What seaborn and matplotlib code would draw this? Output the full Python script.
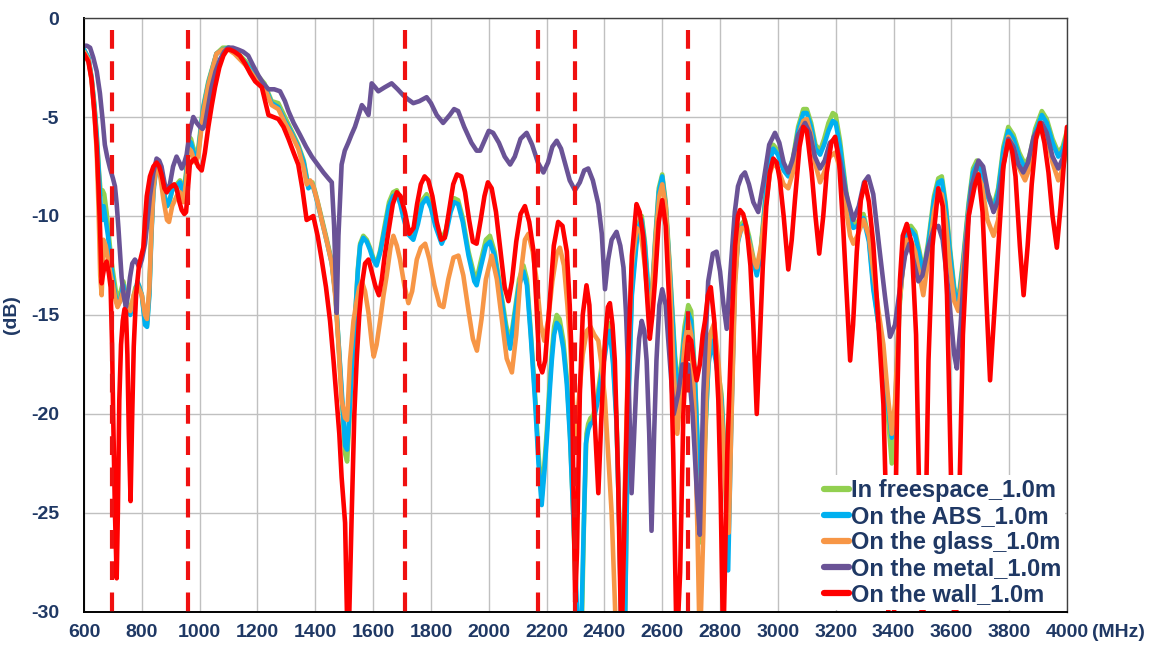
import pandas as pd
import matplotlib
matplotlib.use('Agg')
import matplotlib.pyplot as plt
import seaborn as sns

# Frequency (MHz), return loss (dB) pairs.
# Values below -30 dB leave the plot area in the original.
FREESPACE = [
    (600, -1.6), (615, -2.0), (626, -3.0), (636, -4.4), (644, -5.9), (652, -7.8), (658, -8.9), (664, -8.7),
    (670, -8.9), (678, -9.8), (686, -11), (694, -12.2), (702, -13), (710, -13.8), (718, -14.2), (727, -13.8),
    (736, -13.3), (745, -14), (755, -14.8), (765, -14.5), (778, -13.6), (790, -13.5), (800, -14), (811, -15.3),
    (818, -15.5), (826, -13.8), (833, -10.8), (840, -8.6), (851, -7.3), (862, -7.6), (875, -8.7), (887, -9.5),
    (894, -9.4), (905, -8.7), (920, -8.4), (932, -8.2), (944, -8.8), (953, -7.8), (963, -6.0), (970, -6.1),
    (977, -6.5), (985, -6.8), (995, -6.6), (1012, -4.5), (1030, -3.2), (1058, -1.8), (1080, -1.5), (1100, -1.5),
    (1120, -1.6), (1140, -1.9), (1160, -2.2), (1185, -2.7), (1200, -2.9), (1224, -3.3), (1249, -4.2), (1272, -4.3),
    (1295, -5.0), (1318, -5.7), (1341, -6.4), (1360, -7.2), (1376, -8.5), (1390, -8.3), (1400, -8.8), (1422, -10.1),
    (1440, -11.2), (1457, -12.3), (1470, -14), (1480, -16.3), (1490, -18.8), (1503, -22), (1510, -22.4), (1517, -20.5),
    (1527, -17.5), (1537, -15.3), (1547, -12.7), (1555, -11.4), (1566, -11.0), (1578, -11.2), (1589, -11.6), (1600, -12.1),
    (1612, -12.4), (1625, -11.7), (1641, -10.4), (1655, -9.3), (1669, -8.8), (1682, -8.7), (1694, -9.2), (1705, -9.9),
    (1720, -10.7), (1739, -11.0), (1755, -10.2), (1770, -9.2), (1785, -8.9), (1800, -9.4), (1815, -10.3), (1837, -11.2),
    (1852, -10.7), (1868, -9.6), (1880, -9.1), (1894, -9.2), (1910, -10.1), (1930, -11.8), (1950, -13.0), (1958, -13.2),
    (1972, -12.3), (1990, -11.2), (2004, -11.0), (2020, -11.8), (2040, -13.6), (2060, -15.5), (2074, -16.4), (2090, -14.8),
    (2105, -13.2), (2120, -12.5), (2132, -13.2), (2145, -15.8), (2160, -19), (2172, -22), (2183, -24.2), (2192, -22.6),
    (2201, -20.8), (2210, -18.6), (2218, -16.9), (2226, -15.6), (2235, -15.0), (2245, -15.2), (2258, -16.3), (2270, -18.2),
    (2281, -21), (2292, -25), (2299, -28), (2306, -32), (2320, -32), (2330, -25), (2338, -21), (2344, -20.5),
    (2352, -20.2), (2361, -20.1), (2375, -19.2), (2390, -17.6), (2402, -16.6), (2412, -15.6), (2419, -15.4), (2430, -17.2),
    (2442, -20.3), (2452, -26), (2460, -32), (2470, -32), (2482, -19.6), (2495, -13.7), (2511, -11.1), (2520, -10.3),
    (2529, -10.0), (2540, -11.3), (2550, -13.3), (2557, -15.0), (2565, -13.8), (2575, -11.3), (2588, -8.6), (2600, -7.9),
    (2612, -9.3), (2625, -12.3), (2644, -17), (2655, -18.7), (2665, -17.6), (2677, -15.6), (2690, -14.5), (2700, -14.8),
    (2713, -18), (2724, -22), (2736, -26.5), (2748, -21.5), (2760, -17.3), (2771, -16), (2785, -17), (2805, -19),
    (2818, -22.5), (2828, -26), (2838, -20.5), (2851, -13.2), (2862, -11.2), (2874, -10.4), (2886, -10.2), (2900, -11),
    (2915, -12.1), (2927, -12.8), (2940, -11.8), (2955, -9.3), (2970, -7.2), (2984, -6.4), (3000, -6.7), (3020, -7.5),
    (3036, -7.8), (3052, -7.1), (3070, -5.5), (3088, -4.6), (3100, -4.6), (3115, -5.3), (3130, -6.4), (3146, -6.7),
    (3160, -6.1), (3175, -5.3), (3190, -4.8), (3200, -4.9), (3215, -6.2), (3235, -8.6), (3250, -10.1), (3261, -10.4),
    (3275, -10.3), (3296, -9.9), (3315, -11.1), (3330, -13.5), (3348, -15.5), (3365, -17.5), (3380, -20), (3394, -22.5),
    (3405, -21), (3420, -14.8), (3434, -12.1), (3445, -10.6), (3460, -10.5), (3475, -10.8), (3490, -11.8), (3503, -12.8),
    (3520, -11.3), (3540, -9.0), (3555, -8.1), (3567, -8.0), (3580, -9.3), (3595, -11.6), (3610, -13.6), (3624, -14.3),
    (3640, -12.3), (3660, -9.3), (3675, -7.6), (3688, -7.2), (3705, -7.6), (3725, -8.8), (3746, -9.5), (3762, -8.6),
    (3780, -6.5), (3797, -5.5), (3815, -5.9), (3835, -6.8), (3855, -7.4), (3870, -7.0), (3890, -5.6), (3913, -4.7),
    (3930, -5.1), (3950, -6.1), (3970, -6.8), (3985, -6.5), (4000, -5.7),
]

ABS = [
    (600, -1.6), (615, -2.0), (626, -3.0), (636, -4.5), (644, -6.0), (652, -8.0), (658, -9.6), (663, -10.2),
    (668, -9.5), (675, -10.2), (683, -11), (692, -12.3), (700, -13.2), (708, -14), (716, -14.5), (725, -14.3),
    (736, -13.5), (745, -14.5), (760, -15), (772, -14.2), (785, -13.3), (800, -14), (811, -15.5), (818, -15.6),
    (826, -14), (833, -11), (840, -8.8), (851, -7.4), (862, -7.7), (875, -8.8), (887, -9.5), (894, -9.3),
    (905, -8.7), (920, -8.5), (932, -8.3), (944, -9.0), (953, -8.0), (963, -6.2), (970, -6.3), (977, -6.7),
    (985, -7.0), (995, -6.8), (1012, -4.6), (1030, -3.3), (1058, -1.8), (1080, -1.6), (1100, -1.5), (1120, -1.7),
    (1140, -2.0), (1160, -2.3), (1185, -2.8), (1200, -3.0), (1224, -3.4), (1249, -4.3), (1272, -4.5), (1295, -5.2),
    (1318, -5.8), (1341, -6.5), (1360, -7.3), (1376, -8.6), (1390, -8.4), (1400, -8.9), (1422, -10.2), (1440, -11.3),
    (1457, -12.4), (1470, -14), (1480, -16.3), (1490, -18.5), (1503, -21.6), (1510, -21.8), (1517, -20.2), (1527, -17.5),
    (1537, -15.3), (1547, -12.8), (1555, -11.5), (1566, -11.1), (1578, -11.3), (1589, -11.7), (1600, -12.2), (1612, -12.5),
    (1625, -11.8), (1641, -10.6), (1655, -9.5), (1669, -9.0), (1682, -8.9), (1694, -9.4), (1705, -10.1), (1720, -10.9),
    (1739, -11.2), (1755, -10.4), (1770, -9.4), (1785, -9.1), (1800, -9.6), (1815, -10.5), (1837, -11.4), (1852, -10.9),
    (1868, -9.8), (1880, -9.3), (1894, -9.4), (1910, -10.3), (1930, -12), (1950, -13.3), (1958, -13.5), (1972, -12.6),
    (1990, -11.5), (2004, -11.3), (2020, -12), (2040, -13.8), (2060, -15.8), (2074, -16.7), (2090, -15), (2105, -13.5),
    (2120, -12.8), (2132, -13.5), (2145, -16), (2160, -19.3), (2172, -22.5), (2183, -24.6), (2192, -23), (2201, -21.2),
    (2210, -19), (2218, -17.3), (2226, -16), (2235, -15.4), (2245, -15.6), (2258, -16.7), (2270, -18.5), (2281, -21.2),
    (2292, -25), (2299, -27.5), (2308, -31), (2318, -32), (2328, -26), (2336, -21.5), (2344, -20.8), (2352, -20.5),
    (2361, -20.4), (2375, -19.5), (2390, -18), (2402, -17), (2412, -16), (2419, -15.8), (2430, -17.5), (2442, -20.5),
    (2452, -26), (2460, -32), (2470, -32), (2482, -20), (2495, -14), (2511, -11.4), (2520, -10.5), (2529, -10.2),
    (2540, -11.5), (2550, -13.5), (2557, -15.3), (2565, -14), (2575, -11.5), (2588, -8.8), (2600, -8.0), (2612, -9.5),
    (2625, -12.5), (2644, -17.3), (2655, -19), (2665, -18), (2677, -16), (2690, -14.9), (2700, -15.3), (2713, -18.3),
    (2724, -22), (2736, -25), (2748, -21), (2760, -17.5), (2771, -16.3), (2785, -17.3), (2805, -19.3), (2818, -23),
    (2828, -27.9), (2838, -21), (2851, -13.3), (2862, -11.3), (2874, -10.6), (2886, -10.4), (2900, -11.2), (2915, -12.3),
    (2927, -13), (2940, -12), (2955, -9.5), (2970, -7.4), (2984, -6.6), (3000, -6.9), (3020, -7.7), (3036, -8.0),
    (3052, -7.3), (3070, -5.7), (3088, -4.8), (3100, -4.8), (3115, -5.5), (3130, -6.6), (3146, -6.9), (3160, -6.4),
    (3175, -5.7), (3190, -5.2), (3200, -5.3), (3215, -6.5), (3235, -8.8), (3250, -10.3), (3261, -10.6), (3275, -10.5),
    (3296, -10.1), (3315, -11.3), (3330, -13.7), (3348, -15.5), (3365, -17.3), (3380, -19.5), (3394, -21.2), (3405, -20),
    (3420, -14.5), (3434, -12.2), (3445, -10.8), (3460, -10.7), (3475, -11), (3490, -12), (3503, -13), (3520, -11.5),
    (3540, -9.2), (3555, -8.3), (3567, -8.2), (3580, -9.5), (3595, -11.8), (3610, -13.8), (3624, -14.5), (3640, -12.5),
    (3660, -9.5), (3675, -7.8), (3688, -7.4), (3705, -7.8), (3725, -9.0), (3746, -9.7), (3762, -8.8), (3780, -6.7),
    (3797, -5.7), (3815, -6.1), (3835, -7.0), (3855, -7.6), (3870, -7.2), (3890, -5.8), (3913, -4.9), (3930, -5.3),
    (3950, -6.3), (3970, -7.0), (3985, -6.7), (4000, -5.9),
]

GLASS = [
    (600, -1.7), (615, -2.1), (626, -3.1), (636, -4.8), (644, -6.8), (650, -9.5), (656, -13), (661, -14.0),
    (667, -11.2), (675, -11.5), (683, -12.2), (692, -13), (700, -13.5), (708, -14.2), (716, -14.6), (725, -14.3),
    (736, -13.8), (745, -14.5), (760, -14.8), (772, -14), (785, -13.5), (800, -14), (811, -15.0), (818, -15.2),
    (826, -13.6), (833, -10.8), (840, -8.6), (851, -7.4), (862, -7.8), (875, -9.2), (887, -10.2), (894, -10.3),
    (905, -9.5), (920, -9.0), (932, -8.8), (944, -9.3), (953, -8.3), (963, -6.6), (970, -6.7), (977, -7.0),
    (985, -7.3), (995, -7.0), (1012, -4.8), (1030, -3.4), (1058, -1.8), (1080, -1.6), (1100, -1.6), (1120, -1.8),
    (1140, -2.1), (1160, -2.4), (1185, -2.9), (1200, -3.1), (1224, -3.5), (1249, -4.4), (1272, -4.6), (1295, -5.3),
    (1318, -5.9), (1341, -6.6), (1360, -7.6), (1370, -8.4), (1382, -8.2), (1393, -8.5), (1408, -9.3), (1422, -10.2),
    (1440, -11.3), (1457, -12.4), (1470, -14.2), (1480, -16.5), (1491, -19.3), (1503, -20.2), (1510, -20.3), (1520, -17.3),
    (1532, -15.3), (1543, -14.3), (1552, -13.6), (1561, -13.3), (1572, -13.8), (1584, -14.9), (1596, -16.5), (1602, -17.1),
    (1612, -16.5), (1624, -15.3), (1636, -14), (1647, -13), (1660, -11.6), (1670, -11.0), (1682, -11.5), (1693, -12.2),
    (1708, -13.5), (1722, -14.4), (1735, -13.8), (1751, -12.2), (1765, -11.6), (1780, -11.4), (1795, -12.2), (1812, -13.5),
    (1830, -14.5), (1843, -14.6), (1860, -13.2), (1878, -12.1), (1895, -12.0), (1912, -13), (1930, -14.8), (1945, -16.2),
    (1959, -16.8), (1975, -15.2), (1990, -13.2), (2010, -12.0), (2028, -13.2), (2045, -15.2), (2062, -17.2), (2080, -17.9),
    (2095, -16), (2110, -13), (2125, -11.2), (2137, -10.9), (2152, -11.8), (2166, -13.3), (2180, -15.5), (2192, -16.3),
    (2205, -15.3), (2220, -13.3), (2235, -11.9), (2246, -11.6), (2260, -12.5), (2272, -14.5), (2281, -16.3), (2290, -19),
    (2298, -21.2), (2310, -19.5), (2325, -17), (2339, -15.8), (2352, -15.6), (2365, -16), (2379, -16.3), (2390, -17.5),
    (2402, -19.3), (2415, -22.5), (2425, -25), (2435, -29), (2442, -32), (2458, -32), (2470, -24), (2482, -17),
    (2495, -12.5), (2511, -10.6), (2525, -10.8), (2540, -12.5), (2555, -15), (2565, -14), (2578, -11), (2590, -9),
    (2600, -8.4), (2612, -9.5), (2625, -12.8), (2640, -18), (2652, -21), (2664, -19), (2677, -16.5), (2690, -15.3),
    (2700, -16), (2712, -20), (2722, -26), (2730, -32), (2742, -26), (2752, -19), (2765, -16), (2780, -15.4),
    (2795, -17.5), (2810, -21), (2822, -25), (2830, -26), (2840, -20), (2852, -13.5), (2862, -11.2), (2874, -10.6),
    (2886, -10.6), (2900, -11.3), (2915, -12.2), (2927, -12.6), (2942, -11.5), (2958, -9.5), (2972, -7.9), (2984, -7.3),
    (3000, -7.6), (3020, -8.4), (3036, -8.6), (3052, -7.8), (3070, -6.0), (3088, -5.2), (3100, -5.1), (3115, -5.9),
    (3130, -7.4), (3146, -8.3), (3160, -7.8), (3180, -7.0), (3198, -6.8), (3215, -7.6), (3235, -9.6), (3250, -11.0),
    (3261, -11.4), (3275, -11.0), (3296, -10.2), (3315, -11.0), (3330, -12.8), (3348, -14.8), (3365, -16.5), (3380, -19),
    (3394, -21), (3405, -19.5), (3420, -14.5), (3434, -12.4), (3445, -11.2), (3460, -11.2), (3475, -11.8), (3490, -13),
    (3503, -14), (3520, -12.2), (3540, -9.8), (3555, -8.8), (3567, -8.9), (3580, -10.2), (3595, -12.5), (3610, -14.3),
    (3624, -14.8), (3640, -12.8), (3660, -9.8), (3675, -8.2), (3688, -7.8), (3705, -8.4), (3725, -10.2), (3746, -11.0),
    (3762, -10.2), (3780, -7.4), (3797, -6.0), (3815, -6.5), (3835, -7.6), (3855, -8.2), (3870, -7.6), (3890, -6.2),
    (3913, -5.3), (3930, -5.9), (3950, -7.3), (3970, -8.2), (3985, -7.6), (4000, -6.6),
]

METAL = [
    (600, -1.4), (610, -1.4), (621, -1.5), (632, -2.0), (644, -2.7), (655, -3.8), (664, -5.1), (672, -6.4),
    (680, -7.0), (690, -7.6), (700, -8.1), (707, -8.5), (713, -9.4), (719, -10.6), (725, -12), (730, -13.1),
    (737, -14), (745, -14.6), (752, -14), (759, -13.1), (767, -12.4), (776, -12.2), (785, -12.4), (791, -12.6),
    (800, -12.2), (811, -11.4), (820, -10.2), (828, -9), (840, -7.8), (851, -7.1), (860, -7.2), (868, -7.5),
    (878, -8.3), (886, -8.8), (892, -8.6), (897, -8.4), (908, -7.5), (920, -7.0), (930, -7.3), (938, -7.6),
    (947, -7.3), (955, -6.9), (965, -5.8), (978, -5.0), (990, -5.3), (1001, -5.5), (1010, -5.6), (1018, -5.4),
    (1030, -4.4), (1041, -3.5), (1055, -2.7), (1070, -2.1), (1085, -1.7), (1099, -1.5), (1115, -1.5), (1134, -1.6),
    (1150, -1.7), (1168, -1.9), (1185, -2.4), (1203, -2.9), (1220, -3.3), (1238, -3.6), (1258, -3.6), (1278, -3.7),
    (1295, -4.2), (1307, -4.7), (1325, -5.3), (1347, -5.9), (1368, -6.5), (1388, -7.0), (1408, -7.4), (1428, -7.8),
    (1445, -8.1), (1457, -8.3), (1465, -10.5), (1474, -14.9), (1480, -11), (1491, -7.4), (1502, -6.7), (1514, -6.3),
    (1525, -5.9), (1537, -5.5), (1550, -4.9), (1561, -4.4), (1572, -4.6), (1584, -4.9), (1595, -3.3), (1607, -3.5),
    (1618, -3.7), (1640, -3.5), (1664, -3.3), (1685, -3.6), (1704, -3.9), (1720, -4.1), (1739, -4.3), (1760, -4.2),
    (1785, -4.0), (1800, -4.3), (1820, -4.9), (1842, -5.3), (1865, -4.9), (1880, -4.6), (1894, -4.7), (1915, -5.5),
    (1940, -6.3), (1958, -6.7), (1970, -6.7), (1985, -6.2), (2000, -5.7), (2015, -5.8), (2035, -6.3), (2055, -7.0),
    (2074, -7.4), (2090, -7.0), (2110, -6.1), (2131, -5.8), (2150, -6.4), (2170, -7.3), (2189, -7.8), (2205, -7.3),
    (2220, -6.5), (2235, -6.2), (2250, -6.6), (2265, -7.4), (2280, -8.2), (2298, -8.7), (2315, -8.3), (2330, -7.7),
    (2344, -7.6), (2360, -8.2), (2379, -9.4), (2391, -10.9), (2402, -13.7), (2413, -12.2), (2425, -11.2), (2442, -10.8),
    (2455, -11.5), (2466, -12.6), (2475, -15), (2485, -19), (2494, -24), (2503, -21), (2511, -18.3), (2520, -16.2),
    (2529, -15.3), (2538, -15.8), (2546, -17.3), (2555, -21), (2563, -25.9), (2572, -21), (2580, -17.3), (2590, -14.5),
    (2600, -13.7), (2612, -14.5), (2621, -16.3), (2640, -20), (2655, -19), (2670, -17.5), (2690, -17.5), (2705, -20),
    (2720, -24), (2730, -26.1), (2742, -19), (2759, -13.3), (2775, -11.9), (2788, -11.8), (2800, -12.8), (2812, -14.5),
    (2823, -15.7), (2835, -13), (2851, -9.8), (2862, -8.5), (2874, -8.0), (2886, -7.8), (2900, -8.4), (2915, -9.3),
    (2932, -9.8), (2950, -8.3), (2970, -6.4), (2990, -5.8), (3005, -6.3), (3020, -7.3), (3036, -7.8), (3050, -7.2),
    (3070, -5.9), (3094, -5.3), (3110, -5.8), (3128, -7.0), (3146, -7.6), (3162, -7.2), (3180, -6.3), (3198, -6.1),
    (3215, -7.2), (3235, -8.8), (3261, -10.2), (3280, -9.5), (3298, -8.3), (3313, -8.0), (3330, -8.9), (3350, -11.5),
    (3370, -14), (3388, -16.1), (3405, -15.5), (3422, -13.7), (3440, -12.0), (3455, -11.4), (3470, -12.3), (3486, -13.3),
    (3500, -13), (3520, -11.6), (3540, -10.6), (3555, -10.5), (3570, -11.2), (3590, -13.8), (3610, -17), (3619, -17.7),
    (3632, -15.5), (3650, -11.5), (3670, -8.5), (3694, -7.2), (3710, -7.5), (3728, -8.9), (3746, -9.8), (3762, -9.2),
    (3780, -7.4), (3797, -6.1), (3815, -6.5), (3832, -7.4), (3849, -7.8), (3865, -7.3), (3885, -6.0), (3913, -5.3),
    (3930, -5.8), (3950, -7.0), (3970, -7.6), (3985, -7.1), (4000, -6.2),
]

WALL = [
    (600, -1.8), (615, -2.2), (626, -3.1), (636, -4.8), (644, -6.5), (650, -8.5), (655, -10.4), (661, -13.4),
    (664, -13.1), (670, -12.6), (678, -12.3), (686, -12.9), (692, -13.6), (697, -16.5), (701, -20.2), (707, -25),
    (713, -28.3), (717, -25), (722, -19.3), (728, -16.5), (734, -15.3), (740, -14.7), (745, -14.8), (750, -17),
    (755, -21), (761, -24.4), (766, -20.5), (772, -16.6), (780, -14), (790, -12.5), (805, -11.6), (812, -10),
    (817, -9), (828, -8), (840, -7.5), (851, -7.3), (860, -7.5), (868, -7.9), (878, -8.6), (886, -8.8),
    (895, -8.6), (903, -8.5), (912, -8.4), (920, -8.6), (930, -9.3), (938, -9.7), (947, -9.9), (953, -9.8),
    (960, -8.5), (966, -7.4), (975, -7.2), (984, -7.1), (995, -7.5), (1007, -7.7), (1018, -6.8), (1030, -5.5),
    (1042, -4.4), (1053, -3.5), (1068, -2.5), (1082, -1.9), (1095, -1.6), (1105, -1.6), (1120, -1.7), (1139, -1.9),
    (1157, -2.3), (1175, -2.8), (1192, -3.2), (1215, -3.5), (1238, -4.9), (1255, -5.0), (1272, -5.1), (1290, -5.5),
    (1307, -6.1), (1325, -6.8), (1341, -7.4), (1355, -8.6), (1370, -10.2), (1382, -10.1), (1393, -10.0), (1408, -11),
    (1422, -12.2), (1437, -13.6), (1451, -15.3), (1463, -17.3), (1474, -19.3), (1483, -21), (1491, -23.2), (1503, -25.5),
    (1510, -30.5), (1516, -31), (1526, -25), (1535, -20), (1543, -17.3), (1552, -15), (1561, -13.5), (1572, -12.4),
    (1584, -12.2), (1595, -12.8), (1607, -13.5), (1620, -14), (1630, -13.2), (1640, -12), (1653, -10.8), (1668, -9.4),
    (1682, -8.8), (1695, -9.0), (1710, -9.8), (1725, -10.9), (1740, -10.6), (1752, -9.4), (1765, -8.4), (1778, -8.0),
    (1791, -8.2), (1805, -9.0), (1820, -10.3), (1835, -11.2), (1848, -11.1), (1862, -9.8), (1877, -8.4), (1890, -7.9),
    (1905, -8.0), (1918, -8.8), (1932, -10.2), (1945, -11.3), (1958, -11.4), (1972, -10.2), (1985, -9.0), (1997, -8.3),
    (2010, -8.6), (2025, -9.8), (2040, -11.7), (2055, -13.6), (2068, -14.3), (2080, -13.3), (2095, -11.3), (2110, -9.9),
    (2125, -9.5), (2140, -10.3), (2155, -11.8), (2165, -14.5), (2175, -17.5), (2185, -17.9), (2195, -17.3), (2210, -14.5),
    (2225, -11.5), (2240, -10.3), (2255, -10.5), (2270, -11.8), (2280, -14.5), (2287, -17.3), (2293, -24), (2299, -29.5),
    (2305, -27), (2315, -19), (2325, -15), (2338, -13.5), (2348, -14.5), (2356, -17.3), (2367, -20.5), (2379, -24),
    (2390, -20), (2402, -16.3), (2412, -14.6), (2419, -14.4), (2428, -15.5), (2436, -17.3), (2447, -23), (2459, -32),
    (2470, -25), (2482, -17.3), (2495, -12), (2511, -9.4), (2522, -9.8), (2534, -11), (2545, -13.5), (2557, -16.2),
    (2566, -15), (2575, -13.3), (2588, -10.3), (2600, -9.2), (2612, -10.5), (2627, -15.3), (2638, -22), (2650, -32),
    (2662, -28), (2673, -20), (2682, -17.3), (2690, -16.1), (2700, -16.3), (2710, -17.5), (2719, -18.3), (2730, -17.5),
    (2740, -16), (2748, -15.3), (2758, -14), (2768, -13.6), (2780, -15.3), (2794, -19.3), (2802, -24), (2811, -32),
    (2825, -22), (2840, -15.5), (2852, -11.5), (2862, -10), (2869, -9.7), (2880, -9.9), (2892, -10.6), (2905, -12.5),
    (2915, -15.5), (2927, -20), (2938, -16), (2948, -12.5), (2960, -9.5), (2972, -7.8), (2984, -7.1), (2996, -7.3),
    (3007, -8.2), (3020, -10), (3036, -12.7), (3048, -11.2), (3059, -9.2), (3075, -6.5), (3088, -5.5), (3100, -5.7),
    (3117, -7.8), (3130, -10), (3143, -11.9), (3157, -10), (3169, -7.8), (3185, -6.3), (3198, -6.0), (3212, -7.3),
    (3226, -10.6), (3240, -14.5), (3250, -17.3), (3260, -15.5), (3273, -11.8), (3287, -9.2), (3301, -8.3), (3315, -9.3),
    (3330, -11.4), (3348, -15.5), (3365, -19.5), (3375, -25), (3385, -32), (3400, -32), (3412, -20), (3422, -13.3),
    (3432, -11), (3446, -10.4), (3463, -11.4), (3478, -16), (3490, -25), (3500, -32), (3512, -25), (3521, -17.3),
    (3535, -11.5), (3555, -8.6), (3570, -9.5), (3585, -14), (3600, -24), (3613, -32), (3625, -26), (3640, -16),
    (3660, -10), (3682, -8.4), (3694, -7.9), (3708, -9.8), (3722, -14.5), (3734, -18.3), (3748, -15), (3763, -11.4),
    (3780, -7.5), (3797, -6.2), (3810, -6.7), (3822, -8), (3837, -11.5), (3850, -14), (3864, -11.5), (3878, -8.4),
    (3893, -6.1), (3907, -5.3), (3922, -6.3), (3936, -7.8), (3950, -10), (3965, -11.6), (3978, -9.5), (3988, -7.6),
    (4000, -5.5),
]

SERIES = [
    ('In freespace_1.0m', FREESPACE),
    ('On the ABS_1.0m', ABS),
    ('On the glass_1.0m', GLASS),
    ('On the metal_1.0m', METAL),
    ('On the wall_1.0m', WALL),
]
COLORS = ['#92D050', '#00B0F0', '#F79646', '#6A5396', '#FF0000']

# band edges marked with red dashed lines (MHz)
BAND_MARKS = [698, 960, 1710, 2170, 2300, 2690]

X_TICKS = list(range(600, 4001, 200))
Y_TICKS = [0, -5, -10, -15, -20, -25, -30]

TEXT_COLOR = '#1F3864'


def build_frame():
    rows = []
    for name, pairs in SERIES:
        for mhz, db in pairs:
            rows.append({'MHz': mhz, 'dB': db, 'series': name})
    return pd.DataFrame(rows)


def main():
    sns.set_theme(style='whitegrid')
    plt.rcParams['font.family'] = ['Liberation Sans', 'DejaVu Sans']
    plt.rcParams['axes.unicode_minus'] = False

    df = build_frame()

    fig = plt.figure(figsize=(11.51, 6.48), dpi=100)
    ax = fig.add_axes([0.073, 0.0556, 0.854, 0.9166])
    ax.set_facecolor('white')

    sns.lineplot(data=df, x='MHz', y='dB', hue='series',
                 hue_order=[s[0] for s in SERIES], palette=COLORS,
                 estimator=None, sort=False, linewidth=3.3, ax=ax)

    for x in BAND_MARKS:
        ax.plot([x, x], [-0.6, -30], color='#F01010', lw=3.0,
                linestyle=(0, (4.5, 3.0)), zorder=6, solid_capstyle='butt')

    ax.set_xlim(600, 4000)
    ax.set_ylim(-30, 0)
    ax.set_xticks(X_TICKS)
    ax.set_yticks(Y_TICKS)
    ax.set_xticklabels([str(t) for t in X_TICKS])
    ax.set_yticklabels([str(t) for t in Y_TICKS])

    ax.grid(True, color='#C0C0C0', linewidth=1.0)
    for side in ['left', 'bottom']:
        ax.spines[side].set_color('black')
        ax.spines[side].set_linewidth(1.4)
    for side in ['top', 'right']:
        ax.spines[side].set_color('#404040')
        ax.spines[side].set_linewidth(1.0)

    ax.tick_params(axis='both', labelsize=14, colors=TEXT_COLOR)
    ax.tick_params(axis='x', direction='in', length=4, color='black', pad=9)
    ax.tick_params(axis='y', length=0, pad=18)
    for lbl in ax.get_xticklabels() + ax.get_yticklabels():
        lbl.set_fontweight('bold')

    ax.set_xlabel('')
    ax.set_ylabel('(dB)', fontsize=14, fontweight='bold', color=TEXT_COLOR, labelpad=8)
    fig.text(0.949, 0.024, '(MHz)', fontsize=14, fontweight='bold',
             color=TEXT_COLOR, ha='left', va='center')

    leg = ax.legend(loc='lower right', frameon=True, fontsize=17,
                    handlelength=1.05, handletextpad=0.08, labelspacing=0.13,
                    borderpad=0.15, borderaxespad=0.1)
    leg.get_frame().set_facecolor('white')
    leg.get_frame().set_edgecolor('none')
    leg.get_frame().set_alpha(1.0)
    leg.set_zorder(10)
    for line in leg.get_lines():
        line.set_linewidth(4.5)
    for text in leg.get_texts():
        text.set_color(TEXT_COLOR)
        text.set_fontweight('bold')

    fig.savefig('out.png', dpi=100, facecolor='white')
    plt.close(fig)


if __name__ == '__main__':
    main()
